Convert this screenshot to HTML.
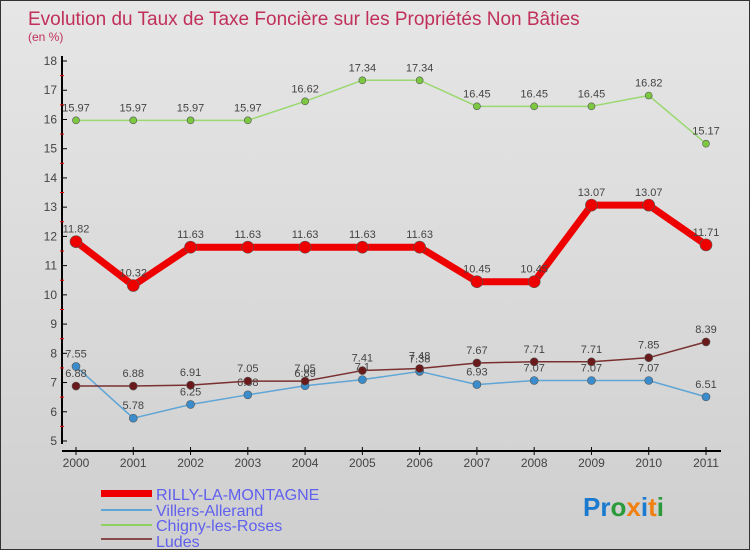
<!DOCTYPE html>
<html><head><meta charset="utf-8"><style>
body{margin:0}
#c{width:750px;height:550px;position:relative;background:linear-gradient(#e6e6e6,#cfcfcf);border:1px solid #333;box-sizing:border-box;font-family:"Liberation Sans",sans-serif;overflow:hidden}
</style></head><body>
<div id="c">
<svg id="s" width="750" height="550" style="position:absolute;left:0;top:0">
<text x="27" y="24" font-size="19" fill="#c0305a">Evolution du Taux de Taxe Foncière sur les Propriétés Non Bâties</text>
<text x="27" y="40" font-size="12" fill="#c0305a">(en %)</text>
<g id="ax"></g><g id="series"></g>
<g>
<rect x="100" y="489" width="51" height="7" fill="#e00"/>
<text x="155" y="499" font-size="16" fill="#6060ee">RILLY-LA-MONTAGNE</text>
<rect x="100" y="508" width="51" height="2" fill="#5fa5d5"/>
<text x="155" y="515" font-size="16" fill="#6060ee">Villers-Allerand</text>
<rect x="100" y="523" width="51" height="2" fill="#8fd060"/>
<text x="155" y="530" font-size="16" fill="#6060ee">Chigny-les-Roses</text>
<rect x="100" y="537" width="51" height="2" fill="#8a4a4a"/>
<text x="155" y="546" font-size="16" fill="#6060ee">Ludes</text>
</g>
<text x="582" y="515" font-size="26" font-weight="bold"><tspan fill="#1a7ad0">Pr</tspan><tspan fill="#2a9a3a">o</tspan><tspan fill="#f08010">x</tspan><tspan fill="#1a7ad0">i</tspan><tspan fill="#f08010">t</tspan><tspan fill="#2a9a3a">i</tspan></text>
</svg></div>
<script>
const years=[2000,2001,2002,2003,2004,2005,2006,2007,2008,2009,2010,2011];
const rilly=[11.82,10.32,11.63,11.63,11.63,11.63,11.63,10.45,10.45,13.07,13.07,11.71];
const villers=[7.55,5.78,6.25,6.58,6.89,7.1,7.38,6.93,7.07,7.07,7.07,6.51];
const chigny=[15.97,15.97,15.97,15.97,16.62,17.34,17.34,16.45,16.45,16.45,16.82,15.17];
const ludes=[6.88,6.88,6.91,7.05,7.05,7.41,7.48,7.67,7.71,7.71,7.85,8.39];
const yTicks=[5,6,7,8,9,10,11,12,13,14,15,16,17,18];
const NS="http://www.w3.org/2000/svg";
const X=i=>75+i*(630/(years.length-1));
const Y=v=>440-(v-5)*29.23;
function el(t,a,p){const e=document.createElementNS(NS,t);for(const k in a)e.setAttribute(k,a[k]);p.appendChild(e);return e;}
const ax=document.getElementById('ax');
let l=el('line',{x1:61,y1:55,x2:61,y2:443,stroke:'#000','stroke-width':2},ax);


l=el('line',{x1:61,y1:450,x2:720,y2:450,stroke:'#000','stroke-width':2},ax);


yTicks.forEach(v=>{
 el('line',{x1:61,y1:Y(v),x2:66,y2:Y(v),stroke:'#000'},ax);
 if(v<18)el('line',{x1:59,y1:Y(v+0.5),x2:63,y2:Y(v+0.5),stroke:'#e00'},ax);
 const t=el('text',{x:56,y:Y(v)+4,'font-size':12,fill:'#444','text-anchor':'end'},ax);t.textContent=v;
 
 
});
years.forEach((yr,i)=>{
 el('line',{x1:X(i),y1:446,x2:X(i),y2:454,stroke:'#000'},ax);
 const t=el('text',{x:X(i),y:466,'font-size':12,fill:'#444','text-anchor':'middle'},ax);t.textContent=yr;
 
 
});
const sg=document.getElementById('series');
function draw(name,data,color,w,r,dot){
 const g=el('g',{},sg);
 
 
 const p=el('polyline',{points:data.map((v,i)=>X(i)+','+Y(v)).join(' '),fill:'none',stroke:color,'stroke-width':w,'stroke-linejoin':'round'},g);
 
 
 data.forEach((v,i)=>{
  const c=el('circle',{cx:X(i),cy:Y(v),r:r,fill:dot,stroke:'#555','stroke-width':0.6},g);
  
  
  const t=el('text',{x:X(i),y:Y(v)-9,'font-size':11,fill:'#444','text-anchor':'middle'},g);t.textContent=v;
  
  
 });
}
draw('chigny',chigny,'#9ad870',1.5,3.5,'#7cc840');
draw('villers',villers,'#5fa5d5',1.5,4,'#3a8ccc');
draw('ludes',ludes,'#7a3030',1.5,4,'#6a1a1a');
draw('rilly',rilly,'#ee0000',7,6,'#ee0000');
</script></body></html>
